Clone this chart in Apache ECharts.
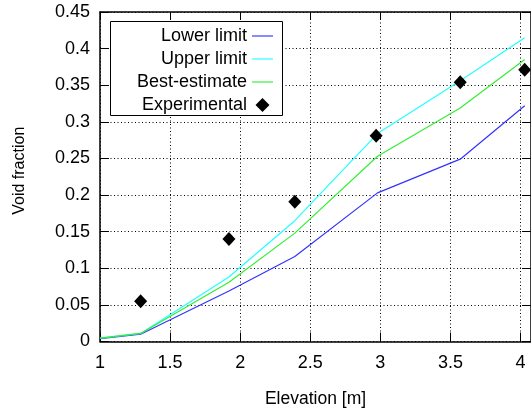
<!DOCTYPE html>
<html>
<head>
<meta charset="utf-8">
<script src="https://cdn.jsdelivr.net/npm/echarts@6/dist/echarts.min.js"></script>
<style>html,body{margin:0;padding:0;background:#fff}#c{width:531px;height:414px}</style>
</head>
<body>
<div id="c"></div>
<script>
const elevation = [1.0, 1.29, 1.92, 2.39, 2.98, 3.57, 4.03];
const lowerLimit = [0.004, 0.010, 0.069, 0.116, 0.203, 0.249, 0.322];
const upperLimit = [0.0045, 0.011, 0.088, 0.165, 0.284, 0.356, 0.415];
const bestEstimate = [0.0045, 0.011, 0.081, 0.148, 0.253, 0.319, 0.385];
const expElevation = [1.29, 1.92, 2.39, 2.97, 3.57, 4.03];
const experimental = [0.055, 0.140, 0.191, 0.281, 0.354, 0.371];
const xTicks = ['1', '1.5', '2', '2.5', '3', '3.5', '4'];
const yTicks = ['0', '0.05', '0.1', '0.15', '0.2', '0.25', '0.3', '0.35', '0.4', '0.45'];

const FONT = '"Liberation Sans", Arial, Helvetica, sans-serif';
const pair = (xs, ys) => xs.map((x, i) => [x, ys[i]]);
const dotted = { color: '#000', width: 1, type: [1, 2.5] };
const lineIcon = 'path://M0,0H22V1.2H0Z';
const diamondIcon = 'path://M7,0L14,7L7,14L0,7Z';

const chart = echarts.init(document.getElementById('c'), null, { renderer: 'canvas' });
chart.setOption({
  animation: false,
  backgroundColor: '#fff',
  textStyle: { fontFamily: FONT },
  grid: { left: 100, right: -1, top: 12, bottom: 72.5, containLabel: false },
  xAxis: [{
    type: 'value', min: 1, max: 4.075, interval: 0.5,
    name: 'Elevation [m]', nameLocation: 'middle', nameGap: 49,
    nameTextStyle: { fontSize: 17.5, color: '#000', fontFamily: FONT },
    axisLine: { show: true, onZero: false, lineStyle: { color: '#000', width: 1.5 } },
    axisTick: { show: true, inside: true, length: 9, lineStyle: { color: '#000' } },
    axisLabel: { fontSize: 18, color: '#000', margin: 13, fontFamily: FONT, showMaxLabel: false,
      formatter: v => { const s = xTicks.find(t => Math.abs(parseFloat(t) - v) < 1e-6); return s === undefined ? '' : s; } },
    splitLine: { show: true, lineStyle: dotted }
  }, {
    type: 'value', min: 1, max: 4.075, interval: 0.5, position: 'top',
    axisLine: { show: true, onZero: false, lineStyle: { color: '#000', width: 1.5 } },
    axisTick: { show: true, inside: true, length: 8, lineStyle: { color: '#000' } },
    axisLabel: { show: false }, splitLine: { show: false }
  }],
  yAxis: [{
    type: 'value', min: 0, max: 0.45, interval: 0.05,
    name: 'Void fraction', nameLocation: 'middle', nameGap: 72,
    nameTextStyle: { fontSize: 16, color: '#000', fontFamily: FONT, padding: [0, 0, 0, 12] },
    axisLine: { show: true, onZero: false, lineStyle: { color: '#000', width: 1.5 } },
    axisTick: { show: true, inside: true, length: 9, lineStyle: { color: '#000' } },
    axisLabel: { fontSize: 18, color: '#000', margin: 10, fontFamily: FONT,
      formatter: v => { const s = yTicks.find(t => Math.abs(parseFloat(t) - v) < 1e-6); return s === undefined ? '' : s; } },
    splitLine: { show: true, lineStyle: dotted }
  }, {
    type: 'value', min: 0, max: 0.45, interval: 0.05, position: 'right',
    axisLine: { show: true, onZero: false, lineStyle: { color: '#000', width: 1.5 } },
    axisTick: { show: true, inside: true, length: 9, lineStyle: { color: '#000' } },
    axisLabel: { show: false }, splitLine: { show: false }
  }],
  graphic: [{
    type: 'rect', z: 3, silent: true,
    shape: { x: 110.5, y: 21.5, width: 172, height: 94 },
    style: { fill: '#fff', stroke: '#000', lineWidth: 1 }
  }],
  legend: {
    orient: 'vertical', align: 'right', right: 258, top: 27, padding: 0,
    itemWidth: 21, itemHeight: 14, itemGap: 5, z: 4,
    textStyle: { fontSize: 18, color: '#000', fontFamily: FONT },
    data: [
      { name: 'Lower limit', icon: lineIcon },
      { name: 'Upper limit', icon: lineIcon },
      { name: 'Best-estimate', icon: lineIcon },
      { name: 'Experimental', icon: diamondIcon }
    ]
  },
  series: [
    { name: 'Lower limit', type: 'line', data: pair(elevation, lowerLimit), symbol: 'none',
      lineStyle: { color: '#3333ff', width: 1.2 }, itemStyle: { color: '#3333ff' } },
    { name: 'Upper limit', type: 'line', data: pair(elevation, upperLimit), symbol: 'none',
      lineStyle: { color: '#22ffff', width: 1.2 }, itemStyle: { color: '#22ffff' } },
    { name: 'Best-estimate', type: 'line', data: pair(elevation, bestEstimate), symbol: 'none',
      lineStyle: { color: '#33ee33', width: 1.2 }, itemStyle: { color: '#33ee33' } },
    { name: 'Experimental', type: 'scatter', data: pair(expElevation, experimental), symbol: 'diamond',
      symbolSize: [13, 14], itemStyle: { color: '#000', opacity: 1 }, z: 5 }
  ]
});
</script>
</body>
</html>
